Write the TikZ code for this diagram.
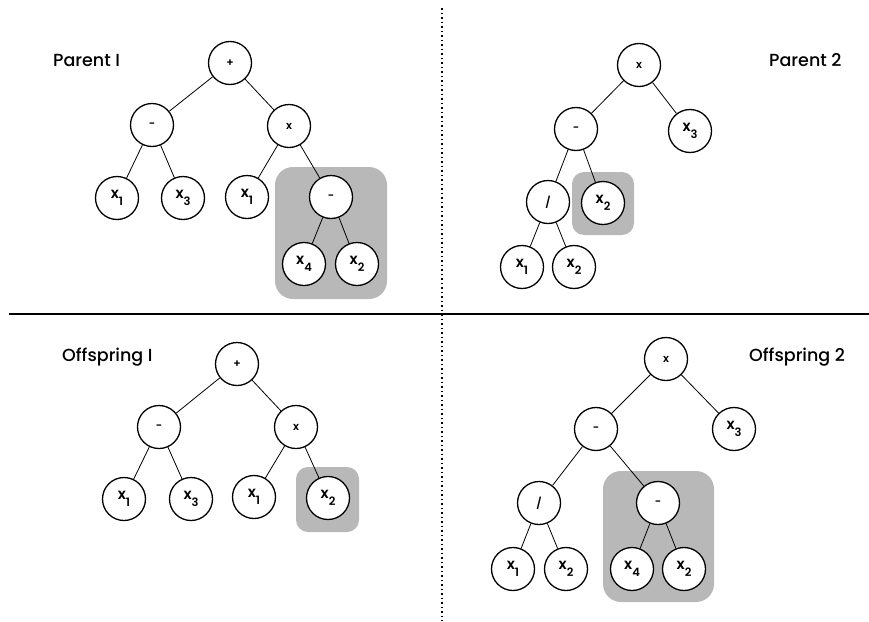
\documentclass[tikz,border=0pt]{standalone}
\usepackage{fontspec}
\setmainfont{Poppins}[UprightFont=* Medium, BoldFont=* SemiBold]
\usetikzlibrary{backgrounds}
\definecolor{boxgray}{RGB}{184,184,184}
\newcommand{\lf}[2]{{\fontsize{15}{15}\selectfont\bfseries #1}\raisebox{-6.5pt}{\fontsize{11.5}{11.5}\selectfont\bfseries #2}}
\newcommand{\op}[1]{{\fontsize{11}{11}\selectfont\bfseries #1}}
\tikzset{
  tn/.style={circle, draw, line width=1.3pt, fill=white, minimum size=43pt, inner sep=0pt},
  edge/.style={line width=0.8pt},
  hbox/.style={fill=boxgray, rounded corners=#1},
  ttl/.style={anchor=base west, font=\fontsize{17.5}{17.5}\selectfont, inner sep=0pt}
}
\begin{document}
\begin{tikzpicture}[x=1pt,y=-1pt]
\useasboundingbox (0,0) rectangle (869,621);
% separators
\draw[line width=2pt] (9,314) -- (869,314);
\draw[line width=1.6pt, dash pattern=on 1.8pt off 2.7pt] (441.7,8) -- (441.7,621);
% highlight boxes
\fill[hbox=18pt] (275,167) rectangle (387,299);
\fill[hbox=12pt] (572,172) rectangle (634,235);
\fill[hbox=12pt] (296,467) rectangle (359,532);
\fill[hbox=18pt] (603,471) rectangle (714,602);
% titles
\node[ttl] (t1) at (53,66.5) {Parent I};
\node[ttl] (t2) at (769,66.5) {Parent 2};
\node[ttl] (t3) at (62,361.5) {Offspring I};
\node[ttl] (t4) at (749,361.5) {Offspring 2};
% Parent 1
\node[tn] (a) at (230,63) {\op{+}};
\node[tn] (a1) at (152,125) {\op{-}};
\node[tn] (a2) at (289,126) {\op{x}};
\node[tn] (a11) at (117,198) {\lf{x}{1}};
\node[tn] (a12) at (183,198) {\lf{x}{3}};
\node[tn] (a21) at (247,197) {\lf{x}{1}};
\node[tn] (a22) at (331,197) {\op{-}};
\node[tn] (a221) at (304,264) {\lf{x}{4}};
\node[tn] (a222) at (357,264) {\lf{x}{2}};
\draw[edge] (a)--(a1) (a)--(a2) (a1)--(a11) (a1)--(a12) (a2)--(a21) (a2)--(a22) (a22)--(a221) (a22)--(a222);
% Parent 2
\node[tn] (b) at (639,65) {\op{x}};
\node[tn] (b1) at (576,129) {\op{-}};
\node[tn] (b2) at (690,131) {\lf{x}{3}};
\node[tn] (b11) at (548,202) {\op{/}};
\node[tn] (b12) at (603,203) {\lf{x}{2}};
\node[tn] (b111) at (522,267) {\lf{x}{1}};
\node[tn] (b112) at (574,267) {\lf{x}{2}};
\draw[edge] (b)--(b1) (b)--(b2) (b1)--(b11) (b1)--(b12) (b11)--(b111) (b11)--(b112);
% Offspring 1
\node[tn] (c) at (237,364) {\op{+}};
\node[tn] (c1) at (159,427) {\op{-}};
\node[tn] (c2) at (296,427) {\op{x}};
\node[tn] (c11) at (124,499) {\lf{x}{1}};
\node[tn] (c12) at (191,499) {\lf{x}{3}};
\node[tn] (c21) at (254,497) {\lf{x}{1}};
\node[tn] (c22) at (328,498) {\lf{x}{2}};
\draw[edge] (c)--(c1) (c)--(c2) (c1)--(c11) (c1)--(c12) (c2)--(c21) (c2)--(c22);
% Offspring 2
\node[tn] (d) at (666,359) {\op{x}};
\node[tn] (d1) at (596,429) {\op{-}};
\node[tn] (d2) at (734,429) {\lf{x}{3}};
\node[tn] (d11) at (539,503) {\op{/}};
\node[tn] (d12) at (658,503) {\op{-}};
\node[tn] (d111) at (513,569) {\lf{x}{1}};
\node[tn] (d112) at (566,569) {\lf{x}{2}};
\node[tn] (d121) at (632,569) {\lf{x}{4}};
\node[tn] (d122) at (684,569) {\lf{x}{2}};
\draw[edge] (d)--(d1) (d)--(d2) (d1)--(d11) (d1)--(d12) (d11)--(d111) (d11)--(d112) (d12)--(d121) (d12)--(d122);
\end{tikzpicture}
\end{document}
